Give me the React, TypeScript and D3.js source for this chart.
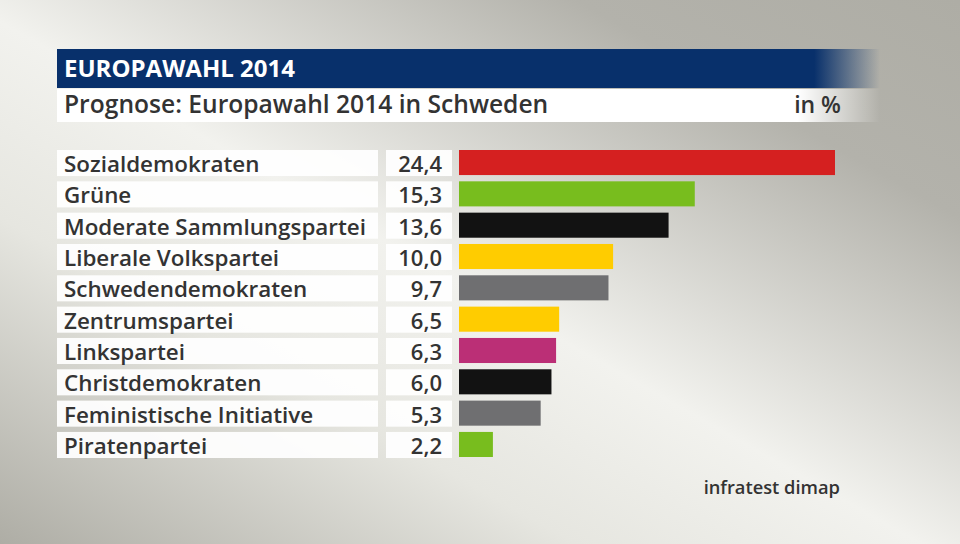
import React from "react";
import * as d3 from "d3";

const parties = ["Sozialdemokraten","Grüne","Moderate Sammlungspartei","Liberale Volkspartei","Schwedendemokraten","Zentrumspartei","Linkspartei","Christdemokraten","Feministische Initiative","Piratenpartei"];
const values = [24.4,15.3,13.6,10.0,9.7,6.5,6.3,6.0,5.3,2.2];
const colors = ["#d52020","#78bd1e","#121212","#ffcc00","#6f6f71","#ffcc00","#bb2f76","#121212","#6f6f71","#78bd1e"];

const header = "EUROPAWAHL 2014";
const title = "Prognose: Europawahl 2014 in Schweden";
const unit = "in %";
const source = "infratest dimap";

export default function App() {
  const W = 960, H = 544;
  const x = d3.scaleLinear().domain([0, 24.4]).range([459, 835]);
  const y = d3.scaleBand().domain(parties).range([150, 457]).paddingInner(0.2).paddingOuter(0);
  const font = "'Open Sans', sans-serif";
  const fmt = (v: number) => d3.format(".1f")(v).replace(".", ",");
  return (
    <svg width={W} height={H} style={{ position: "absolute", left: 0, top: 0 }} fontFamily={font}>
      <defs>
        <linearGradient id="bg" x1="1" y1="0" x2="0" y2="1">
          <stop offset="0" stopColor="#aeada5" />
          <stop offset="0.2" stopColor="#b3b2ab" />
          <stop offset="0.52" stopColor="#f2f2ee" />
          <stop offset="0.7" stopColor="#e6e6e0" />
          <stop offset="1" stopColor="#aeada5" />
        </linearGradient>
        <linearGradient id="hdr" x1="0" y1="0" x2="1" y2="0">
          <stop offset="0" stopColor="#08306b" stopOpacity="1" />
          <stop offset="0.92" stopColor="#08306b" stopOpacity="1" />
          <stop offset="1" stopColor="#08306b" stopOpacity="0" />
        </linearGradient>
        <linearGradient id="ttl" x1="0" y1="0" x2="1" y2="0">
          <stop offset="0" stopColor="#ffffff" stopOpacity="1" />
          <stop offset="0.9" stopColor="#ffffff" stopOpacity="1" />
          <stop offset="1" stopColor="#ffffff" stopOpacity="0" />
        </linearGradient>
      </defs>
      <rect x={0} y={0} width={W} height={H} fill="url(#bg)" />
      <rect x={57} y={49} width={823} height={39} fill="url(#hdr)" />
      <text x={64} y={77} fill="#fff" fontSize={24} fontWeight={700}>{header}</text>
      <rect x={57} y={89} width={823} height={33} fill="url(#ttl)" />
      <text x={64} y={113} fill="#333" fontSize={24.6} fontWeight={600}>{title}</text>
      <text x={841} y={113} fill="#333" fontSize={23} fontWeight={600} textAnchor="end">{unit}</text>
      {parties.map((p, i) => {
        const y0 = y(p)!;
        const bh = y.bandwidth();
        return (
          <g key={p}>
            <rect x={57} y={y0} width={321} height={bh + 1} fill="#fff" fillOpacity={0.92} />
            <rect x={386} y={y0} width={66} height={bh + 1} fill="#fff" fillOpacity={0.92} />
            <text x={64} y={y0 + bh - 3} fill="#333" fontSize={22.4} fontWeight={600}>{p}</text>
            <text x={442} y={y0 + bh - 3} fill="#333" fontSize={22} fontWeight={600} textAnchor="end">{fmt(values[i])}</text>
            <rect x={x(0)} y={y0} width={x(values[i]) - x(0)} height={bh} fill={colors[i]} />
          </g>
        );
      })}
      <text x={840} y={494} fill="#333" fontSize={18.3} fontWeight={600} textAnchor="end">{source}</text>
    </svg>
  );
}
